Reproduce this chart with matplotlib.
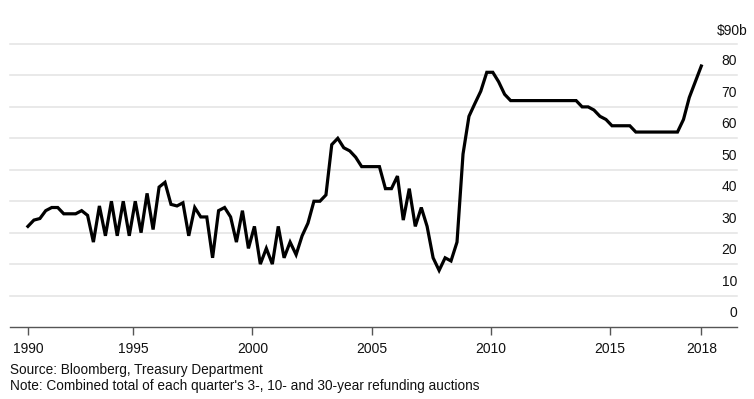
import matplotlib
matplotlib.use("Agg")
import matplotlib.pyplot as plt
import matplotlib.transforms as mtransforms
import numpy as np
import pandas as pd

plt.rcParams['font.family'] = ['Liberation Sans', 'DejaVu Sans']

# Quarterly refunding auction dates (Aug 1990 .. Nov 2018)
dates = pd.date_range('1990-08-01', '2018-11-01', freq='3MS')
years = dates.year + (dates.dayofyear - 1) / 365.0

# Combined 3-, 10- and 30-year refunding auction sizes ($ billions)
values = [
    32, 34, 34.5, 37, 38, 38, 36, 36, 36, 37,
    35.5, 27, 38.5, 29, 40, 29, 40, 29, 40, 30,
    42.5, 31, 44.5, 46, 39, 38.5, 39.5, 29, 38, 35,
    35, 22, 37, 38, 35, 27, 37, 25, 32, 20,
    25, 20, 32, 22, 27, 23, 29, 33, 40, 40,
    42, 58, 60, 57, 56, 54, 51, 51, 51, 51,
    44, 44, 48, 34, 44, 32, 38, 32, 22, 18,
    22, 21, 27, 55, 67, 71, 75, 81, 81, 78,
    74, 72, 72, 72, 72, 72, 72, 72, 72, 72,
    72, 72, 72, 70, 70, 69, 67, 66, 64, 64,
    64, 64, 62, 62, 62, 62, 62, 62, 62, 62,
    66, 73, 78, 83,
]

y_ticks = [0, 10, 20, 30, 40, 50, 60, 70, 80, 90]
y_labels = ['0', '10', '20', '30', '40', '50', '60', '70', '80', '$90b']
x_tick_pos = [years[0], 1995, 2000, 2005, 2010, 2015, years[-1]]
x_tick_labels = ['1990', '1995', '2000', '2005', '2010', '2015', '2018']

source_text = 'Source: Bloomberg, Treasury Department'
note_text = "Note: Combined total of each quarter's 3-, 10- and 30-year refunding auctions"

W, H = 754, 399
fig = plt.figure(figsize=(W / 100, H / 100), dpi=100)
ax = fig.add_axes([10 / W, 72 / H, 727 / W, 283 / H])

ax.set_xlim(1989.83, 2020.33)
ax.set_ylim(0, 90)

for v in y_ticks[1:]:
    ax.axhline(v, color='#e3e3e3', lw=1.1, zorder=1, clip_on=False)

ax.plot(years, values, color='black', lw=2.3, solid_joinstyle='miter', zorder=3)

for s in ['top', 'right', 'left']:
    ax.spines[s].set_visible(False)
ax.spines['bottom'].set_color('#555555')
ax.spines['bottom'].set_linewidth(1.0)

ax.set_yticks([])
ax.set_xticks(x_tick_pos)
ax.set_xticklabels(x_tick_labels, fontsize=10, color='#111111')
ax.tick_params(axis='x', direction='out', length=6, width=1, color='#555555', pad=5)

trans = mtransforms.blended_transform_factory(ax.transAxes, ax.transData)
for v, lab in zip(y_ticks, y_labels):
    if lab.startswith('$'):
        t = mtransforms.offset_copy(trans, fig=fig, x=11 / 100 * 72, y=13 / 100 * 72, units='points')
    else:
        t = mtransforms.offset_copy(trans, fig=fig, x=0, y=14 / 100 * 72, units='points')
    ax.text(1.0, v, lab, transform=t, ha='right', va='center', fontsize=10, color='#111111')

fig.text(10 / W, 1 - 370 / H, source_text, ha='left', va='center', fontsize=9.8, color='#111111')
fig.text(10 / W, 1 - 386 / H, note_text, ha='left', va='center', fontsize=9.8, color='#111111')

fig.savefig('out.png', dpi=100)
